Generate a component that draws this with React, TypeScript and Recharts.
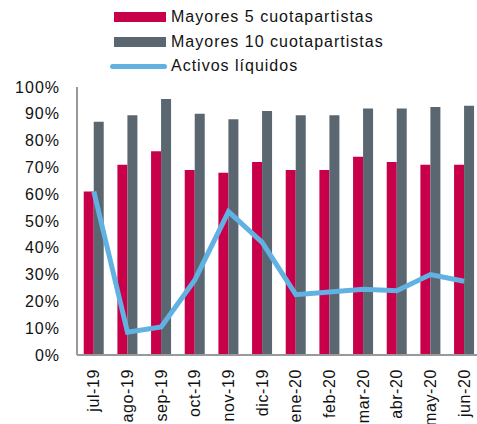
import { ComposedChart, Bar, Line, XAxis, YAxis, Legend } from "recharts";

const months = ["jul-19", "ago-19", "sep-19", "oct-19", "nov-19", "dic-19", "ene-20", "feb-20", "mar-20", "abr-20", "may-20", "jun-20"];
const mayores5 = [61, 71, 76, 69, 68, 72, 69, 69, 74, 72, 71, 71];
const mayores10 = [87, 89.5, 95.5, 90, 88, 91, 89.5, 89.5, 92, 92, 92.5, 93];
const activosLiquidos = [61, 8.5, 10.5, 28, 53.5, 42, 22.5, 23.5, 24.5, 24, 30, 27.5];
const yTicks = [0, 10, 20, 30, 40, 50, 60, 70, 80, 90, 100];

const data = months.map((m, i) => ({
  month: m,
  top5: mayores5[i],
  top10: mayores10[i],
  liquid: activosLiquidos[i],
}));

const RED = "#C8004A";
const GRAY = "#5B6770";
const BLUE = "#62B1E3";
const FONT = "'Liberation Sans', Arial, sans-serif";

function MonthTick({ x, y, payload }: any) {
  const ty = y + 6;
  return (
    <text
      x={x}
      y={ty}
      transform={`rotate(-90, ${x}, ${ty})`}
      textAnchor="end"
      dy="0.35em"
      fontSize={16}
      fontFamily={FONT}
      letterSpacing={0.6}
      fill="#111"
    >
      {payload.value}
    </text>
  );
}

function LegendBox() {
  const rows = [
    { label: "Mayores 5 cuotapartistas", color: RED, kind: "bar" },
    { label: "Mayores 10 cuotapartistas", color: GRAY, kind: "bar" },
    { label: "Activos líquidos", color: BLUE, kind: "line" },
  ];
  return (
    <div style={{ fontFamily: FONT, fontSize: 16, letterSpacing: 1, color: "#111" }}>
      {rows.map((r) => (
        <div key={r.label} style={{ display: "flex", alignItems: "center", height: 24.5 }}>
          {r.kind === "bar" ? (
            <span style={{ display: "inline-block", width: 52, height: 10, background: r.color, marginLeft: 4, marginRight: 5 }} />
          ) : (
            <span style={{ display: "inline-block", width: 57, height: 5, borderRadius: 3, background: r.color, marginRight: 4 }} />
          )}
          <span>{r.label}</span>
        </div>
      ))}
    </div>
  );
}

export default function App() {
  return (
    <div style={{ position: "absolute", left: 0, top: 0, width: 477, height: 424, overflow: "hidden", background: "#fff" }}>
      <ComposedChart
        width={500}
        height={424}
        data={data}
        margin={{ top: 87, right: 19, bottom: 9, left: 0 }}
        barCategoryGap="20%"
        barGap={0}
      >
        <XAxis
          dataKey="month"
          tick={<MonthTick />}
          tickLine={false}
          axisLine={{ stroke: "#999", strokeWidth: 2 }}
          interval={0}
          height={60}
        />
        <YAxis
          domain={[0, 100]}
          ticks={yTicks}
          tickFormatter={(v) => `${v}%`}
          tickLine={false}
          tickSize={0}
          tickMargin={17}
          axisLine={{ stroke: "#999", strokeWidth: 2 }}
          width={77}
          interval={0}
          tick={{ fontSize: 16, fontFamily: FONT, fill: "#111", letterSpacing: 1 }}
        />
        <Legend
          layout="vertical"
          align="center"
          verticalAlign="middle"
          content={<LegendBox />}
          wrapperStyle={{ top: 5, left: 110, width: 320 }}
        />
        <Bar dataKey="top5" fill={RED} isAnimationActive={false} />
        <Bar dataKey="top10" fill={GRAY} isAnimationActive={false} />
        <Line
          dataKey="liquid"
          stroke={BLUE}
          strokeWidth={5}
          dot={false}
          isAnimationActive={false}
        />
      </ComposedChart>
    </div>
  );
}
